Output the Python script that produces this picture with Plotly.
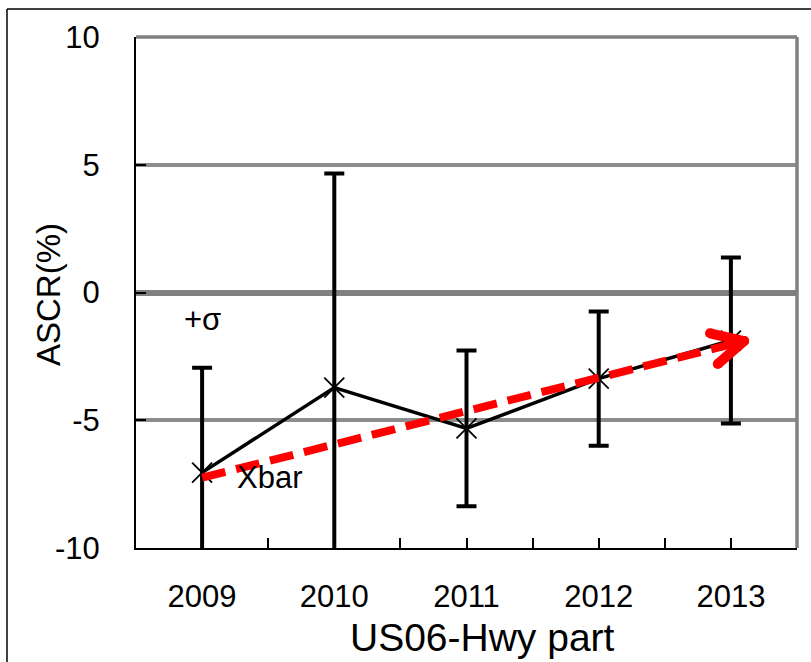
import math
import plotly.graph_objects as go

# ---- data -------------------------------------------------------------
years = ["2009", "2010", "2011", "2012", "2013"]
xbar = [-7.05, -3.72, -5.32, -3.37, -1.88]      # mean ASCR (%)
sigma = [4.10, 8.38, 3.05, 2.63, 3.25]          # standard deviation (%)
y_ticks = [-10, -5, 0, 5, 10]
y_tick_text = ["-10", "-5", "0", "5", "10"]

# hand-drawn trend arrow (start / tip), category index units
trend_x = [0.0, 4.1]
trend_y = [-7.25, -1.9]

# ---- geometry ----------------------------------------------------------
W, H = 811, 662
ML, MR, MT, MB = 136, 14, 37, 114
x_range = [-0.5, 4.5]
y_range = [-10, 10]
pw, ph = W - ML - MR, H - MT - MB
px_per_x = pw / (x_range[1] - x_range[0])
px_per_y = ph / (y_range[1] - y_range[0])

def paper_x(px):
    return (px - ML) / pw

def paper_y(py):
    return (H - MB - py) / ph

FONT = "Liberation Sans, Arial, sans-serif"
idx = list(range(len(years)))

fig = go.Figure()

# mean line with +/- sigma error bars
fig.add_trace(go.Scatter(
    x=idx, y=xbar,
    mode="lines+markers",
    line=dict(color="black", width=3.5),
    marker=dict(symbol="x-thin", size=20, color="black",
                line=dict(color="black", width=1.8)),
    error_y=dict(type="data", array=sigma, visible=True,
                 color="black", thickness=4, width=10),
    showlegend=False, hoverinfo="skip",
))

# red dashed trend line
fig.add_trace(go.Scatter(
    x=trend_x, y=trend_y, mode="lines",
    line=dict(color="#ff0000", width=8, dash="24px,11px"),
    showlegend=False, hoverinfo="skip",
))

# open chevron arrowhead at the trend tip, built in pixel space
dx = (trend_x[1] - trend_x[0]) * px_per_x
dy = (trend_y[1] - trend_y[0]) * px_per_y
n = math.hypot(dx, dy)
bx, by = -dx / n, -dy / n
arm, ang = 35, math.radians(27)
head_x, head_y = [], []
for s in (1, -1):
    c, sn = math.cos(s * ang), math.sin(s * ang)
    rx, ry = bx * c - by * sn, bx * sn + by * c
    head_x += [trend_x[1] + rx * arm / px_per_x, trend_x[1], None]
    head_y += [trend_y[1] + ry * arm / px_per_y, trend_y[1], None]
fig.add_trace(go.Scatter(
    x=head_x, y=head_y, mode="lines+markers",
    line=dict(color="#ff0000", width=10),
    marker=dict(color="#ff0000", size=10, line=dict(width=0)),
    showlegend=False, hoverinfo="skip",
))

fig.update_layout(
    width=W, height=H,
    margin=dict(l=ML, r=MR, t=MT, b=MB),
    paper_bgcolor="white", plot_bgcolor="white",
    font=dict(family=FONT, color="black"),
    xaxis=dict(
        range=x_range, tickmode="array", tickvals=idx, ticktext=years,
        ticks="inside", ticklen=10, tickwidth=1.5, tickcolor="black",
        tickfont=dict(size=31), ticklabelstandoff=20,
        showline=True, linecolor="black", linewidth=2,
        showgrid=False, zeroline=False,
        minor=dict(tickvals=[i + 0.5 for i in range(-1, len(years))],
                   ticks="inside", ticklen=10, tickwidth=1.5, tickcolor="black"),
    ),
    yaxis=dict(
        range=y_range, tickmode="array", tickvals=y_ticks, ticktext=y_tick_text,
        ticks="inside", ticklen=10, tickwidth=1.5, tickcolor="black",
        tickfont=dict(size=31), ticklabelstandoff=28,
        showline=True, linecolor="black", linewidth=2,
        showgrid=True, gridcolor="#8c8c8c", gridwidth=3.5,
        zeroline=True, zerolinecolor="#808080", zerolinewidth=6,
    ),
    shapes=[
        # gray top and right frame of the plot area
        dict(type="line", xref="paper", yref="paper", x0=0, x1=1, y0=1, y1=1,
             line=dict(color="#808080", width=3.5)),
        dict(type="line", xref="paper", yref="paper", x0=1, x1=1, y0=0, y1=1,
             line=dict(color="#808080", width=3.5)),
        # outer chart frame
        dict(type="line", xref="paper", yref="paper",
             x0=paper_x(7), x1=paper_x(W + 5), y0=paper_y(9), y1=paper_y(9),
             line=dict(color="black", width=1.5)),
        dict(type="line", xref="paper", yref="paper",
             x0=paper_x(7), x1=paper_x(7), y0=paper_y(9), y1=paper_y(H + 5),
             line=dict(color="black", width=1.5)),
    ],
    annotations=[
        dict(x=0, y=-1.06, xref="x", yref="y", text="+σ", showarrow=False,
             xanchor="center", yanchor="middle", font=dict(size=31)),
        dict(x=0.51, y=-7.24, xref="x", yref="y", text="Xbar", showarrow=False,
             xanchor="center", yanchor="middle", font=dict(size=31)),
        dict(x=paper_x(48), y=paper_y(295), xref="paper", yref="paper",
             text="ASCR(%)", textangle=-90, showarrow=False,
             xanchor="center", yanchor="middle", font=dict(size=33)),
        dict(x=paper_x(482), y=paper_y(638), xref="paper", yref="paper",
             text="US06-Hwy part", showarrow=False,
             xanchor="center", yanchor="middle", font=dict(size=39)),
    ],
)

fig.write_html("out.html")
